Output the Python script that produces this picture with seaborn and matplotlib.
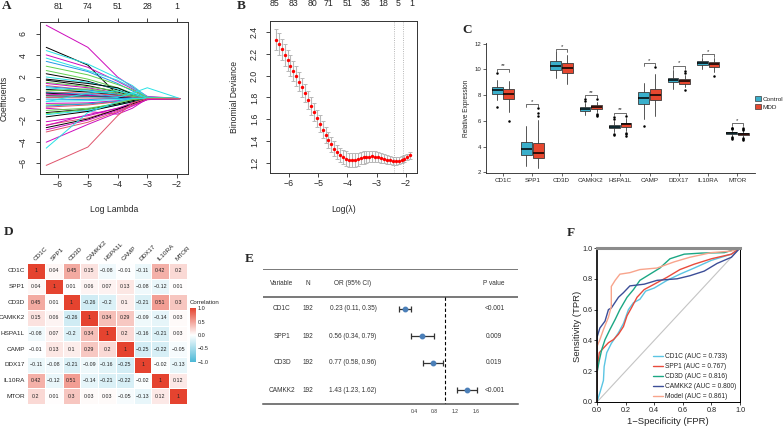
import numpy as np
import pandas as pd
import matplotlib
matplotlib.use("Agg")
import matplotlib.pyplot as plt
import seaborn as sns
from matplotlib.colors import LinearSegmentedColormap
from matplotlib.patches import Patch

sns.set_theme(style="white")
plt.rcParams["font.family"] = ["Liberation Sans", "DejaVu Sans"]
plt.rcParams["axes.unicode_minus"] = True

# ---------------- A: LASSO coefficient paths ----------------
lasso_loglambda = [-6.4, -5.0, -4.0, -3.5, -3.0, -1.9]
lasso_top_ticks = [-6, -5, -4, -3, -2]
lasso_top_labels = ["81", "74", "51", "28", "1"]
lasso_paths = [
    [6.8, 4.75, 2.0, 1.08, 0.2, 0], [4.75, 3.1, 0.35, 0.0, 0.0, 0],
    [4.45, 3.2, 1.9, 1.2, 0.15, 0], [4.05, 2.9, 1.6, 0.9, 0.1, 0],
    [3.75, 2.6, 1.7, 1.0, 0.1, 0], [3.45, 2.5, 1.4, 0.7, 0.05, 0],
    [3.0, 2.2, 1.3, 0.8, 0.1, 0], [2.6, 1.8, 1.0, 0.5, 0.05, 0],
    [2.3, 1.6, 0.8, 0.3, 0.0, 0], [2.0, 1.5, 0.9, 0.5, 0.05, 0],
    [1.8, 1.4, 1.0, 0.4, 0.0, 0], [1.7, 1.2, 0.6, 0.25, 0.0, 0],
    [1.5, 1.1, 0.7, 0.3, 0.05, 0], [1.4, 1.0, 0.5, 0.2, 0.0, 0],
    [1.2, 0.8, 0.4, 0.15, 0.0, 0], [1.1, 0.8, 0.4, 0.2, 0.0, 0],
    [1.0, 0.7, 0.35, 0.1, 0.0, 0], [0.85, 0.6, 0.3, 0.1, 0.0, 0],
    [0.7, 0.9, 0.5, 0.2, 0.0, 0], [0.6, 0.5, 0.3, 0.1, 0.0, 0],
    [0.55, 0.4, 0.2, 0.05, 0.0, 0], [0.5, 0.3, 0.05, 0.0, 0.0, 0],
    [0.4, 0.3, 0.1, 0.0, 0.0, 0], [0.25, 0.2, 0.1, 0.0, 0.0, 0],
    [0.1, 0.15, 0.1, 0.5, 1.0, 0], [0.1, 0.05, 0.0, 0.0, 0.0, 0],
    [-0.05, -0.1, 0.0, 0.0, 0.0, 0], [-0.25, -0.2, -0.1, 0.0, 0.0, 0],
    [-0.3, 0.5, 0.7, 0.4, 0.05, 0], [-0.45, -0.4, -0.2, -0.1, 0.0, 0],
    [-0.6, -0.5, -0.3, -0.1, 0.0, 0], [-0.7, -0.5, -0.25, 0.0, 0.0, 0],
    [-0.8, -0.6, -0.3, -0.1, 0.0, 0], [-0.9, -1.2, -1.45, -0.9, 0.0, 0],
    [-1.1, -0.9, -0.5, -0.2, 0.0, 0], [-1.3, -1.0, -0.5, -0.2, 0.0, 0],
    [-1.4, -1.0, -0.4, -0.1, 0.0, 0], [-1.5, -1.1, -0.6, -0.3, 0.0, 0],
    [-1.7, -1.2, -0.6, -0.3, -0.05, 0], [-2.15, -1.6, -0.9, -0.4, -0.05, 0],
    [-2.45, -1.8, -1.0, -0.5, -0.05, 0], [-2.5, -1.5, -0.9, -0.6, 0.0, 0],
    [-2.7, -1.9, -1.0, -0.5, -0.05, 0], [-2.9, -2.0, -1.1, -0.6, -0.1, 0],
    [-3.1, -2.2, -1.2, -0.6, -0.1, 0], [-4.05, -2.4, -1.3, -0.7, -0.1, 0],
    [-4.6, -1.3, -0.3, 0.0, 0.0, 0], [-6.2, -4.5, -1.6, -0.4, 0.0, 0],
]
lasso_colors = [5, 0, 4, 5, 4, 3, 2, 2, 0, 4, 0, 0, 2, 5, 1, 3, 4, 0, 2, 1, 3, 0, 5, 0,
                4, 1, 3, 4, 4, 5, 2, 3, 1, 5, 2, 0, 2, 4, 0, 5, 1, 5, 0, 5, 1, 5, 4, 1]
r_palette = ["black", "#DF536B", "#61D04F", "#2297E6", "#28E2E5", "#CD0BBC"]

# ---------------- B: cross-validation curve ----------------
cv_loglambda = [-6.45, -6.35, -6.25, -6.15, -6.05, -5.95, -5.85, -5.75, -5.65, -5.55,
                -5.45, -5.35, -5.25, -5.15, -5.05, -4.95, -4.85, -4.75, -4.65, -4.55,
                -4.45, -4.35, -4.25, -4.15, -4.05, -3.95, -3.85, -3.75, -3.65, -3.55,
                -3.45, -3.35, -3.25, -3.15, -3.05, -2.95, -2.85, -2.75, -2.65, -2.55,
                -2.45, -2.35, -2.25, -2.15, -2.05, -1.95, -1.85]
cv_deviance = [2.33, 2.29, 2.24, 2.19, 2.14, 2.09, 2.045, 1.995, 1.945, 1.895,
               1.84, 1.78, 1.72, 1.665, 1.61, 1.56, 1.505, 1.455, 1.41, 1.37,
               1.33, 1.30, 1.275, 1.255, 1.24, 1.23, 1.225, 1.228, 1.235, 1.243,
               1.25, 1.255, 1.258, 1.26, 1.258, 1.253, 1.245, 1.237, 1.23, 1.224,
               1.22, 1.219, 1.221, 1.228, 1.24, 1.255, 1.27]
cv_se = [0.100, 0.100, 0.099, 0.098, 0.097, 0.095, 0.093, 0.091, 0.089, 0.087,
         0.085, 0.083, 0.081, 0.080, 0.078, 0.077, 0.075, 0.073, 0.071, 0.069,
         0.068, 0.067, 0.066, 0.065, 0.065, 0.064, 0.063, 0.061, 0.059, 0.057,
         0.055, 0.053, 0.051, 0.049, 0.047, 0.045, 0.043, 0.041, 0.039, 0.037,
         0.035, 0.034, 0.033, 0.032, 0.031, 0.030, 0.030]
cv_top_pos = [-6.48, -5.86, -5.21, -4.63, -4.0, -3.39, -2.77, -2.26, -1.81]
cv_top_labels = ["85", "83", "80", "71", "51", "36", "18", "5", "1"]
cv_lambda_lines = [-2.41, -2.10]

# ---------------- C: expression boxplots ----------------
genes = ["CD1C", "SPP1", "CD3D", "CAMKK2", "HSPA1L", "CAMP", "DDX17", "IL10RA", "MTOR"]
ctrl_q1 = [8.05, 3.38, 9.92, 6.77, 5.43, 7.33, 9.00, 10.31, 4.97]
ctrl_med = [8.36, 3.82, 10.28, 6.92, 5.56, 7.77, 9.18, 10.46, 5.05]
ctrl_q3 = [8.64, 4.33, 10.67, 7.10, 5.69, 8.23, 9.36, 10.62, 5.13]
ctrl_lo = [7.60, 2.49, 9.30, 6.46, 5.10, 6.13, 8.49, 10.05, 4.85]
ctrl_hi = [9.15, 5.60, 11.33, 7.36, 6.02, 8.95, 9.98, 10.90, 5.25]
ctrl_out = [[9.70, 7.07], [], [], [7.67, 7.55], [6.15, 6.30, 5.00, 4.90], [5.64], [], [],
            [5.35, 5.42, 5.48, 4.75, 4.68, 4.62]]
mdd_q1 = [7.72, 3.10, 9.72, 6.90, 5.54, 7.59, 8.90, 10.18, 4.90]
mdd_med = [8.08, 3.51, 10.10, 7.08, 5.72, 8.00, 9.08, 10.41, 4.97]
mdd_q3 = [8.44, 4.28, 10.46, 7.25, 5.87, 8.51, 9.26, 10.54, 5.08]
mdd_lo = [6.72, 2.36, 8.90, 6.70, 5.20, 6.38, 8.60, 9.80, 4.78]
mdd_hi = [9.10, 6.07, 11.08, 7.49, 6.20, 9.67, 9.60, 10.85, 5.20]
mdd_out = [[6.02], [6.38, 6.60, 7.03], [], [7.72, 6.55, 6.45, 6.38], [6.40, 5.05, 4.95, 4.85],
           [10.18], [9.87, 9.75, 8.38], [9.51], [5.30, 5.38, 5.45, 4.68, 4.60, 4.55]]
sig_height = [10.05, 7.28, 11.56, 8.00, 6.64, 10.49, 10.28, 11.20, 5.82]
sig_label = ["**", "*", "*", "**", "**", "*", "*", "*", "*"]

# ---------------- D: correlation matrix ----------------
corr_values = [
    [1, 0.04, 0.45, 0.15, -0.08, -0.01, -0.11, 0.42, 0.2],
    [0.04, 1, 0.01, 0.06, 0.07, 0.13, -0.08, -0.12, 0.01],
    [0.45, 0.01, 1, -0.26, -0.2, 0.1, -0.21, 0.51, 0.3],
    [0.15, 0.06, -0.26, 1, 0.34, 0.29, -0.09, -0.14, 0.03],
    [-0.08, 0.07, -0.2, 0.34, 1, 0.2, -0.16, -0.21, 0.03],
    [-0.01, 0.13, 0.1, 0.29, 0.2, 1, -0.25, -0.22, -0.05],
    [-0.11, -0.08, -0.21, -0.09, -0.16, -0.25, 1, -0.02, -0.13],
    [0.42, -0.12, 0.51, -0.14, -0.21, -0.22, -0.02, 1, 0.12],
    [0.2, 0.01, 0.3, 0.03, 0.03, -0.05, -0.13, 0.12, 1],
]

# ---------------- E: forest plot ----------------
forest_vars = ["CD1C", "SPP1", "CD3D", "CAMKK2"]
forest_n = [192, 192, 192, 192]
forest_or = [0.23, 0.56, 0.77, 1.43]
forest_lo = [0.11, 0.34, 0.58, 1.23]
forest_hi = [0.35, 0.79, 0.96, 1.62]
forest_p = ["<0.001", "0.009", "0.019", "<0.001"]

# ---------------- F: ROC curves ----------------
roc_labels = ["CD1C (AUC = 0.733)", "SPP1 (AUC = 0.767)", "CD3D (AUC = 0.816)",
              "CAMKK2 (AUC = 0.800)", "Model (AUC = 0.861)"]
roc_colors = ["#5BC5E3", "#E94B3C", "#1BA784", "#3C4E98", "#F8A48C"]
roc_fpr = [
    [0, 0.02, 0.045, 0.05, 0.068, 0.10, 0.15, 0.185, 0.22, 0.255, 0.30, 0.34, 0.40, 0.49, 0.58, 0.68, 0.80, 0.94, 1.0],
    [0, 0, 0.016, 0.045, 0.08, 0.115, 0.15, 0.185, 0.21, 0.24, 0.28, 0.33, 0.40, 0.49, 0.58, 0.68, 0.80, 0.94, 1.0],
    [0, 0, 0.016, 0.033, 0.056, 0.09, 0.127, 0.16, 0.21, 0.255, 0.30, 0.37, 0.44, 0.51, 0.61, 0.73, 0.89, 1.0],
    [0, 0, 0.02, 0.056, 0.08, 0.10, 0.15, 0.185, 0.23, 0.33, 0.42, 0.56, 0.65, 0.75, 0.84, 0.94, 1.0],
    [0, 0, 0.02, 0.045, 0.08, 0.10, 0.10, 0.127, 0.16, 0.23, 0.30, 0.42, 0.54, 0.65, 0.80, 0.94, 1.0],
]
roc_tpr = [
    [0, 0.06, 0.14, 0.23, 0.32, 0.38, 0.45, 0.51, 0.60, 0.645, 0.667, 0.72, 0.74, 0.79, 0.83, 0.87, 0.92, 0.96, 1.0],
    [0, 0.20, 0.32, 0.35, 0.385, 0.405, 0.44, 0.49, 0.56, 0.61, 0.68, 0.73, 0.765, 0.81, 0.86, 0.895, 0.93, 0.96, 1.0],
    [0, 0.19, 0.27, 0.34, 0.405, 0.47, 0.536, 0.60, 0.68, 0.73, 0.79, 0.83, 0.87, 0.93, 0.96, 0.967, 0.97, 1.0],
    [0, 0.42, 0.48, 0.525, 0.60, 0.61, 0.68, 0.71, 0.754, 0.765, 0.79, 0.80, 0.82, 0.85, 0.90, 0.94, 1.0],
    [0, 0.36, 0.405, 0.47, 0.55, 0.62, 0.75, 0.79, 0.83, 0.84, 0.86, 0.87, 0.91, 0.94, 0.97, 0.98, 1.0],
]

# =====================================================================
W, H = 784, 428
fig = plt.figure(figsize=(W / 100, H / 100), dpi=100)
fig.patch.set_facecolor("white")


def box(x0, y0, x1, y1):
    return [x0 / W, 1 - y1 / H, (x1 - x0) / W, (y1 - y0) / H]


def ftext(x, y, s, **kw):
    fig.text(x / W, 1 - y / H, s, **kw)


def letter(x, y, s):
    ftext(x, y, s, family=["Liberation Serif", "DejaVu Serif"], weight="bold",
          fontsize=9.5, ha="center", va="center")


def r_frame(ax):
    for sp in ax.spines.values():
        sp.set_visible(True)
        sp.set_color("#333333")
        sp.set_linewidth(0.7)


# ---------------- Panel A ----------------
axA = fig.add_axes(box(40, 22, 188, 174))
for vals, ci in zip(lasso_paths, lasso_colors):
    axA.plot(lasso_loglambda, vals, color=r_palette[ci], lw=0.7)
axA.set_xlim(-6.61, -1.63)
axA.set_ylim(-7.0, 7.1)
axA.set_xticks([-6, -5, -4, -3, -2])
axA.set_yticks([-6, -4, -2, 0, 2, 4, 6])
axA.set_yticklabels(["\u22126", "\u22124", "\u22122", "0", "2", "4", "6"], rotation=90, va="center")
r_frame(axA)
axA.tick_params(axis="x", direction="out", length=3, width=0.6, labelsize=6.3, pad=1.5, bottom=True)
axA.tick_params(axis="y", direction="out", length=3, width=0.6, labelsize=6.3, pad=6, left=True)
secA = axA.secondary_xaxis("top")
secA.set_xticks(lasso_top_ticks, labels=lasso_top_labels)
secA.tick_params(direction="out", length=3, width=0.6, labelsize=6.3, pad=5)
secA.spines["top"].set_visible(False)
ftext(4, 98, "Coefficients", rotation=90, ha="center", va="center", fontsize=6.2)
ftext(114, 210, "Log Lambda", ha="center", va="center", fontsize=6.2)
letter(7, 6, "A")

# ---------------- Panel B ----------------
axB = fig.add_axes(box(270, 21, 417, 173))
axB.errorbar(cv_loglambda, cv_deviance, yerr=cv_se, fmt="none", ecolor="#b8b8b8",
             elinewidth=0.8, capsize=1.6, capthick=0.7, zorder=1)
axB.scatter(cv_loglambda, cv_deviance, s=6, color="red", zorder=3, linewidths=0)
for xl in cv_lambda_lines:
    axB.axvline(xl, color="#a0a0a0", ls=":", lw=0.6)
axB.set_xlim(-6.65, -1.62)
axB.set_ylim(1.108, 2.5)
axB.set_xticks([-6, -5, -4, -3, -2])
axB.set_yticks([1.2, 1.4, 1.6, 1.8, 2.0, 2.2, 2.4])
axB.set_yticklabels(["1.2", "1.4", "1.6", "1.8", "2.0", "2.2", "2.4"], rotation=90, va="center")
r_frame(axB)
axB.tick_params(axis="x", direction="out", length=3, width=0.6, labelsize=6.3, pad=1.5, bottom=True)
axB.tick_params(axis="y", direction="out", length=3, width=0.6, labelsize=6.3, pad=5, left=True)
secB = axB.secondary_xaxis("top")
secB.set_xticks(cv_top_pos, labels=cv_top_labels)
secB.tick_params(length=0, labelsize=6.3, pad=9)
secB.spines["top"].set_visible(False)
ftext(234, 97, "Binomial Deviance", rotation=90, ha="center", va="center", fontsize=6.2)
ftext(344, 209, "Log(\u03bb)", ha="center", va="center", fontsize=6.2)
letter(241, 6, "B")

# ---------------- Panel C ----------------
axC = fig.add_axes(box(486, 43, 755, 173))
pos = np.arange(len(genes))
ctrl_stats = [dict(q1=a, med=b, q3=c, whislo=d, whishi=e, fliers=f, label=g)
              for a, b, c, d, e, f, g in zip(ctrl_q1, ctrl_med, ctrl_q3, ctrl_lo, ctrl_hi, ctrl_out, genes)]
mdd_stats = [dict(q1=a, med=b, q3=c, whislo=d, whishi=e, fliers=f, label=g)
             for a, b, c, d, e, f, g in zip(mdd_q1, mdd_med, mdd_q3, mdd_lo, mdd_hi, mdd_out, genes)]
col_ctrl, col_mdd = "#3AAFCB", "#E6472F"
common = dict(widths=0.37, patch_artist=True, showcaps=False, showfliers=True,
              medianprops=dict(color="black", lw=1.1),
              whiskerprops=dict(color="#3a3a3a", lw=0.6),
              flierprops=dict(marker="o", markersize=1.8, markerfacecolor="black",
                              markeredgecolor="black", markeredgewidth=0))
axC.bxp(ctrl_stats, positions=pos - 0.2,
        boxprops=dict(facecolor=col_ctrl, edgecolor="#3a3a3a", lw=0.6), **common)
axC.bxp(mdd_stats, positions=pos + 0.2,
        boxprops=dict(facecolor=col_mdd, edgecolor="#3a3a3a", lw=0.6), **common)
for i, (h, lab) in enumerate(zip(sig_height, sig_label)):
    axC.plot([i - 0.2, i - 0.2, i + 0.2, i + 0.2], [h - 0.22, h, h, h - 0.22], color="#333333", lw=0.5)
    axC.text(i, h + 0.02, lab, ha="center", va="bottom", fontsize=4.3)
axC.set_xlim(-0.58, 8.6)
axC.set_ylim(1.95, 12.05)
axC.set_xticks(pos)
axC.set_xticklabels(genes)
axC.set_yticks([2, 4, 6, 8, 10, 12])
for s in ["top", "right"]:
    axC.spines[s].set_visible(False)
for s in ["left", "bottom"]:
    axC.spines[s].set_color("#222222")
    axC.spines[s].set_linewidth(0.6)
axC.tick_params(axis="x", direction="out", length=2, width=0.5, labelsize=4.5, pad=1.5, bottom=True)
axC.tick_params(axis="y", direction="out", length=2, width=0.5, labelsize=4.3, pad=1.5, left=True)
ftext(467, 108, "Relative Expression", rotation=90, ha="center", va="center", fontsize=4.7)
handles = [Patch(facecolor=col_ctrl, edgecolor="#3a3a3a", lw=0.5, label="Control"),
           Patch(facecolor=col_mdd, edgecolor="#3a3a3a", lw=0.5, label="MDD")]
fig.legend(handles=handles, loc="center left", bbox_to_anchor=(755 / W, 1 - 103 / H),
           frameon=False, fontsize=4.6, handlelength=0.9, handleheight=0.9,
           handletextpad=0.35, labelspacing=0.35, borderpad=0, borderaxespad=0)
letter(467, 30, "C")

# ---------------- Panel D ----------------
axD = fig.add_axes(box(27, 263, 187, 404))
caxD = fig.add_axes(box(190, 308, 196, 362))
corr_df = pd.DataFrame(corr_values, index=genes, columns=genes)
annot = np.array([[f"{v:g}".replace("-", "\u2212") for v in row] for row in corr_values])
cmap = LinearSegmentedColormap.from_list("corr", ["#4CB8D6", "#FFFFFF", "#E5432F"])
sns.heatmap(corr_df, ax=axD, cbar_ax=caxD, cmap=cmap, vmin=-1, vmax=1, annot=annot, fmt="",
            annot_kws=dict(fontsize=3.8, color="#222222"), linewidths=0.6, linecolor="white",
            xticklabels=genes, yticklabels=genes)
axD.xaxis.tick_top()
axD.set_xticks(np.arange(len(genes)) + 0.5)
axD.set_yticks(np.arange(len(genes)) + 0.5)
axD.set_xticklabels(genes, rotation=45, ha="left", va="bottom", rotation_mode="anchor")
axD.set_yticklabels(genes, rotation=0)
axD.tick_params(axis="both", length=0, labelsize=4.6, pad=1.5)
axD.tick_params(axis="x", pad=1)
cb = axD.collections[0].colorbar
cb.set_ticks([-1, -0.5, 0, 0.5, 1])
cb.set_ticklabels(["\u22121.0", "\u22120.5", "0.0", "0.5", "1.0"])
cb.ax.tick_params(labelsize=4, length=0, pad=1.5)
cb.outline.set_visible(False)
ftext(190, 302, "Correlation", ha="left", va="center", fontsize=4.4)
letter(9, 232, "D")

# ---------------- Panel E ----------------
axE = fig.add_axes(box(263, 268.5, 518, 403.5))
axE.set_facecolor("none")
axE.set_xlim(-2.52, 2.41)
axE.set_ylim(3.5, -1.5)
for s in ["top", "left", "right"]:
    axE.spines[s].set_visible(False)
axE.spines["bottom"].set_color("#555555")
axE.spines["bottom"].set_linewidth(1.1)
axE.axhline(-1.47, color="#555555", lw=1.1)
axE.axhline(-0.44, color="#555555", lw=1.1)
axE.plot([1, 1], [-0.44, 3.5], ls=(0, (3, 2)), color="black", lw=0.8)
ypos = np.arange(len(forest_vars))
xerr = [np.subtract(forest_or, forest_lo), np.subtract(forest_hi, forest_or)]
axE.errorbar(forest_or, ypos, xerr=xerr, fmt="o", ms=3.2, mfc="#4B7FB8", mec="#4B7FB8",
             ecolor="#333333", elinewidth=0.9, capsize=2.2, capthick=0.9, zorder=3)
col_x = {"var": -2.153, "n": -1.65, "or": -0.78, "p": 1.95}
tk = dict(fontsize=4.7, color="#333333", va="center")
axE.text(col_x["var"], -0.96, "Variable", ha="center", **tk)
axE.text(col_x["n"], -0.96, "N", ha="center", **tk)
axE.text(col_x["or"], -0.96, "OR (95% CI)", ha="center", **tk)
axE.text(col_x["p"], -0.96, "P value", ha="center", **tk)
for i, (v, n, o, lo, hi, p) in enumerate(zip(forest_vars, forest_n, forest_or, forest_lo, forest_hi, forest_p)):
    axE.text(col_x["var"], i, v, ha="center", **tk)
    axE.text(col_x["n"], i, str(n), ha="center", **tk)
    axE.text(col_x["or"], i, f"{o:.2f} ({lo:.2f}, {hi:.2f})", ha="center", **tk)
    axE.text(col_x["p"], i, p, ha="center", **tk)
axE.set_xticks([0.4, 0.8, 1.2, 1.6])
axE.set_xticklabels(["0.4", "0.8", "1.2", "1.6"])
axE.set_yticks([])
axE.tick_params(axis="x", length=0, labelsize=3.6, pad=4, colors="#333333")
letter(249, 259, "E")

# ---------------- Panel F ----------------
axF = fig.add_axes(box(597, 248, 740, 402))
axF.plot([0, 1], [0, 1], color="#c4c4c4", lw=0.8)
for fpr, tpr, c, lab in zip(roc_fpr, roc_tpr, roc_colors, roc_labels):
    sns.lineplot(x=fpr, y=tpr, sort=False, estimator=None, color=c, lw=1.0, label=lab, ax=axF)
axF.set_xlim(0, 1)
axF.set_ylim(0, 1)
ticks = [0, 0.2, 0.4, 0.6, 0.8, 1.0]
axF.set_xticks(ticks)
axF.set_yticks(ticks)
axF.set_xticklabels([f"{t:.1f}" for t in ticks])
axF.set_yticklabels([f"{t:.1f}" for t in ticks])
for s in ["left", "right", "bottom"]:
    axF.spines[s].set_color("black")
    axF.spines[s].set_linewidth(0.7)
axF.spines["left"].set_linewidth(1.2)
axF.spines["top"].set_color("#8c8c8c")
axF.spines["top"].set_linewidth(2.2)
axF.tick_params(axis="both", direction="out", length=2.5, width=0.6, labelsize=5.2, pad=0.8,
                bottom=True, left=True, colors="#222222")
axF.set_xlabel("")
axF.set_ylabel("")
axF.legend(loc="lower left", bbox_to_anchor=(0.38, 0.0), frameon=False, fontsize=4.8,
           handlelength=1.4, handletextpad=0.4, labelspacing=0.45, borderpad=0.3, borderaxespad=0)
ftext(577, 326, "Sensitivity (TPR)", rotation=90, ha="center", va="center", fontsize=6.8)
ftext(668, 421, "1\u2212Specificity (FPR)", ha="center", va="center", fontsize=6.8)
letter(571, 233, "F")

fig.savefig("out.png", dpi=100, facecolor="white")
